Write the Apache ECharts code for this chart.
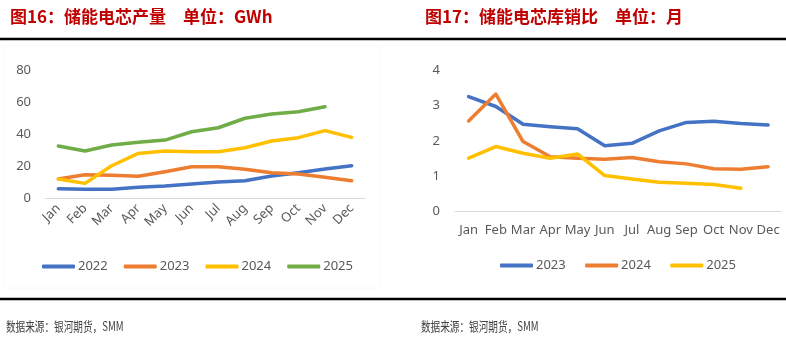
<!DOCTYPE html>
<html>
<head>
<meta charset="utf-8">
<script src="https://cdn.jsdelivr.net/npm/echarts@6/dist/echarts.min.js"></script>
<style>
html,body{margin:0;padding:0;background:#fff;}
#c{width:786px;height:339px;}
</style>
</head>
<body>
<div id="c"></div>
<script>
// ---- Data ----
var months = ['Jan','Feb','Mar','Apr','May','Jun','Jul','Aug','Sep','Oct','Nov','Dec'];

// Chart 16: 储能电芯产量 (GWh)
var prod2022 = [6.0, 5.6, 5.6, 6.9, 7.7, 8.9, 10.2, 11.0, 13.9, 16.0, 18.3, 20.3];
var prod2023 = [12.0, 14.7, 14.3, 13.7, 16.6, 19.7, 19.7, 18.1, 16.0, 15.2, 13.1, 11.0];
var prod2024 = [12.0, 9.3, 20.3, 28.0, 29.5, 29.0, 29.0, 31.5, 35.7, 37.8, 42.2, 38.0];
var prod2025 = [32.6, 29.5, 33.2, 34.9, 36.3, 41.5, 44.0, 49.9, 52.5, 54.0, 57.1, null];
var prodYTicks = [0, 20, 40, 60, 80];

// Chart 17: 储能电芯库销比 (月)
var ratio2023 = [3.25, 2.97, 2.47, 2.40, 2.34, 1.86, 1.93, 2.28, 2.52, 2.55, 2.49, 2.45];
var ratio2024 = [2.56, 3.32, 1.98, 1.55, 1.51, 1.48, 1.53, 1.41, 1.35, 1.21, 1.20, 1.27];
var ratio2025 = [1.51, 1.84, 1.65, 1.51, 1.63, 1.02, 0.92, 0.83, 0.80, 0.77, 0.66, null];
var ratioYTicks = [0, 1, 2, 3, 4];

var title16 = '图16：储能电芯产量\u3000单位：GWh';
var title17 = '图17：储能电芯库销比\u3000单位：月';
var sourceText = '数据来源：银河期货，SMM';

// ---- Styles ----
var C_BLUE = '#4472C4', C_ORANGE = '#ED7D31', C_YELLOW = '#FFC000', C_GREEN = '#70AD47';
var FONT = '"Noto Sans", "Noto Sans CJK SC", sans-serif';
var LABEL_COLOR = '#595959';

function lineSeries(name, data, color, xi) {
  return {
    type: 'line', name: name, data: data,
    xAxisIndex: xi, yAxisIndex: xi,
    showSymbol: false, symbol: 'none',
    connectNulls: false,
    lineStyle: { color: color, width: 3.5, cap: 'round', join: 'round' },
    itemStyle: { color: color },
    emphasis: { disabled: true },
    animation: false
  };
}

var chart = echarts.init(document.getElementById('c'), null, { renderer: 'canvas' });

var option = {
  backgroundColor: '#ffffff',
  animation: false,
  textStyle: { fontFamily: FONT },
  title: [
    { text: title16, left: 5, top: 3,
      textStyle: { color: '#C00000', fontSize: 17, fontWeight: 'bold', fontFamily: '"Noto Sans CJK SC", sans-serif' } },
    { text: title17, left: 420, top: 3,
      textStyle: { color: '#C00000', fontSize: 17, fontWeight: 'bold', fontFamily: '"Noto Sans CJK SC", sans-serif' } }
  ],
  legend: [
    { data: ['2022','2023','2024','2025'].map(function(n){return {name:n};}),
      left: 37, top: 255, itemWidth: 33, itemHeight: 4, itemGap: 16,
      icon: 'roundRect',
      textStyle: { color: LABEL_COLOR, fontSize: 13, fontFamily: FONT, padding: [0,0,0,-2] },
      selectedMode: false },
    { data: ['2023 ','2024 ','2025 '].map(function(n){return {name:n};}),
      left: 495, top: 254, itemWidth: 33, itemHeight: 4, itemGap: 16,
      icon: 'roundRect',
      textStyle: { color: LABEL_COLOR, fontSize: 13, fontFamily: FONT, padding: [0,0,0,-2] },
      selectedMode: false }
  ],
  grid: [
    { left: 45, right: 421, top: 70, bottom: 140.7, containLabel: false },
    { left: 455, right: 4.3, top: 70, bottom: 127.3, containLabel: false }
  ],
  xAxis: [
    { type: 'category', gridIndex: 0, data: months, boundaryGap: true,
      axisLine: { lineStyle: { color: '#D9D9D9', width: 1 } },
      axisTick: { show: false },
      axisLabel: { rotate: 45, interval: 0, color: LABEL_COLOR, fontSize: 13, fontFamily: FONT, margin: 8 } },
    { type: 'category', gridIndex: 1, data: months, boundaryGap: true,
      axisLine: { lineStyle: { color: '#D9D9D9', width: 1 } },
      axisTick: { show: false },
      axisLabel: { interval: 0, color: LABEL_COLOR, fontSize: 13, fontFamily: FONT, margin: 12 } }
  ],
  yAxis: [
    { type: 'value', gridIndex: 0, min: prodYTicks[0], max: prodYTicks[prodYTicks.length-1], interval: 20,
      axisLine: { show: false }, axisTick: { show: false }, splitLine: { show: false },
      axisLabel: { color: LABEL_COLOR, fontSize: 13, fontFamily: FONT, margin: 14 } },
    { type: 'value', gridIndex: 1, min: ratioYTicks[0], max: ratioYTicks[ratioYTicks.length-1], interval: 1,
      axisLine: { show: false }, axisTick: { show: false }, splitLine: { show: false },
      axisLabel: { color: LABEL_COLOR, fontSize: 13, fontFamily: FONT, margin: 15 } }
  ],
  series: [
    lineSeries('2022', prod2022, C_BLUE, 0),
    lineSeries('2023', prod2023, C_ORANGE, 0),
    lineSeries('2024', prod2024, C_YELLOW, 0),
    lineSeries('2025', prod2025, C_GREEN, 0),
    lineSeries('2023 ', ratio2023, C_BLUE, 1),
    lineSeries('2024 ', ratio2024, C_ORANGE, 1),
    lineSeries('2025 ', ratio2025, C_YELLOW, 1)
  ],
  graphic: [
    { type: 'rect', shape: { x: 4, y: 46, width: 376, height: 242 }, style: { fill: 'none', stroke: '#F8F8F8', lineWidth: 1 }, z: -1, silent: true },
    { type: 'rect', shape: { x: 0, y: 37.8, width: 786, height: 2.4 }, style: { fill: '#000' }, silent: true },
    { type: 'rect', shape: { x: 0, y: 297.8, width: 786, height: 2.4 }, style: { fill: '#000' }, silent: true },
    { type: 'text', x: 6, y: 320, scaleX: 0.74, style: { text: sourceText, fill: '#404040', fontSize: 13, fontFamily: '"Noto Sans CJK SC", sans-serif' }, silent: true },
    { type: 'text', x: 421, y: 320, scaleX: 0.74, style: { text: sourceText, fill: '#404040', fontSize: 13, fontFamily: '"Noto Sans CJK SC", sans-serif' }, silent: true }
  ]
};
chart.setOption(option);
</script>
</body>
</html>
